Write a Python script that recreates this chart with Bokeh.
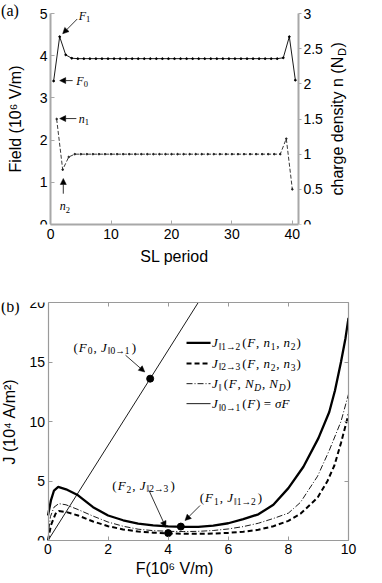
import math
from bokeh.plotting import figure
from bokeh.models import (Range1d, LinearAxis, FixedTicker, NumeralTickFormatter,
                          CustomJSTickFormatter, Label, Arrow, NormalHead)
from bokeh.layouts import column
from bokeh.embed import file_html
from bokeh.resources import INLINE

# ---------------- panel (a) data ----------------
period_F = [0.5, 1.5, 2.5, 3.5, 4.5, 5.5, 6.5, 7.5, 8.5, 9.5, 10.5, 11.5, 12.5, 13.5,
            14.5, 15.5, 16.5, 17.5, 18.5, 19.5, 20.5, 21.5, 22.5, 23.5, 24.5, 25.5,
            26.5, 27.5, 28.5, 29.5, 30.5, 31.5, 32.5, 33.5, 34.5, 35.5, 36.5, 37.5,
            38.5, 39.5, 40.5]
field_F = [3.40, 4.45, 4.02, 3.94, 3.93, 3.93, 3.93, 3.93, 3.93, 3.93, 3.93, 3.93,
           3.93, 3.93, 3.93, 3.93, 3.93, 3.93, 3.93, 3.93, 3.93, 3.93, 3.93, 3.93,
           3.93, 3.93, 3.93, 3.93, 3.93, 3.93, 3.93, 3.93, 3.93, 3.93, 3.93, 3.93,
           3.93, 3.93, 3.95, 4.45, 3.42]
period_n = [1, 2, 3, 4, 5, 6, 7, 8, 9, 10, 11, 12, 13, 14, 15, 16, 17, 18, 19, 20,
            21, 22, 23, 24, 25, 26, 27, 28, 29, 30, 31, 32, 33, 34, 35, 36, 37, 38,
            39, 40]
density_n = [1.50, 0.78, 0.96, 1.00, 1.00, 1.00, 1.00, 1.00, 1.00, 1.00, 1.00, 1.00,
             1.00, 1.00, 1.00, 1.00, 1.00, 1.00, 1.00, 1.00, 1.00, 1.00, 1.00, 1.00,
             1.00, 1.00, 1.00, 1.00, 1.00, 1.00, 1.00, 1.00, 1.00, 1.00, 1.00, 1.00,
             1.00, 1.00, 1.22, 0.50]
ticks_a_x = [0, 10, 20, 30, 40]
ticks_a_left = [0, 1, 2, 3, 4, 5]
ticks_a_right = [0, 0.5, 1, 1.5, 2, 2.5, 3]

# ---------------- panel (b) data ----------------
F_j12 = [0, 0.1, 0.2, 0.34, 0.6, 1.0, 1.5, 2.0, 2.5, 3.0, 3.5, 4.0, 4.5, 5.0, 5.5,
         6.0, 6.5, 7.0, 7.5, 8.0, 8.5, 9.0, 9.36, 9.55, 9.75, 9.9, 10.0]
J_j12 = [2.1, 3.4, 4.2, 4.5, 4.3, 3.8, 2.8, 2.1, 1.7, 1.42, 1.27, 1.18, 1.14, 1.15, 1.25,
         1.45, 1.8, 2.2, 3.0, 4.4, 6.2, 8.6, 10.8, 12.6, 15.0, 17.0, 18.7]
F_j23 = [0, 0.1, 0.25, 0.36, 0.6, 1.0, 1.5, 2.0, 2.5, 3.0, 3.5, 4.0, 4.5, 5.0, 5.5,
         6.0, 6.5, 7.0, 7.5, 8.0, 8.4, 8.97, 9.3, 9.53, 9.75, 10.0]
J_j23 = [0, 1.3, 2.24, 2.47, 2.4, 2.1, 1.6, 1.2, 0.93, 0.76, 0.66, 0.6, 0.57, 0.56, 0.58,
         0.64, 0.74, 0.9, 1.2, 1.65, 2.24, 3.6, 5.0, 6.3, 8.2, 10.6]
F_jpar = [0, 0.04, 0.08, 0.2, 0.36, 0.6, 1.0, 1.5, 2.0, 2.5, 3.0, 3.5, 4.0, 4.5, 5.0,
          5.5, 6.0, 6.5, 7.0, 7.5, 8.0, 8.4, 8.97, 9.36, 9.75, 10.0]
J_jpar = [0, 1.1, 2.0, 2.8, 3.1, 3.0, 2.6, 2.05, 1.55, 1.2, 0.95, 0.83, 0.77, 0.75, 0.77,
          0.84, 0.97, 1.17, 1.45, 1.85, 2.3, 3.2, 5.4, 7.57, 10.0, 12.3]
F_sigma = [0, 5.2]
J_sigma = [0, 20.8]
mark_F = [3.4, 4.0, 4.42]
mark_J = [13.6, 0.62, 1.17]
ticks_b_x = [0, 2, 4, 6, 8, 10]
ticks_b_y = [0, 5, 10, 15, 20]

SANS = "Liberation Sans"
SERIF = "Liberation Serif"
AXC = "#a8a8a8"
BXC = "#9a9a9a"

# approximate glyph widths (em) for the serif math text
WID = {"F": 0.611, "J": 0.444, "n": 0.5, "N": 0.667, "D": 0.722, "(": 0.333, ")": 0.333,
       ",": 0.25, " ": 0.25, "=": 0.564, "\u2016": 0.45, "\u2192": 0.95, "\u03c3": 0.55}


def tw(s, fs):
    return sum(WID.get(c, 0.5) for c in s) * fs


def mtext(fig, x, y, parts, size=12.0, sub=8.5, gap=0.0):
    off = 0.0
    for s, kind, style in parts:
        fs = sub if kind == "s" else size
        yo = -0.3 * size if kind == "s" else 0.0
        fig.add_layout(Label(x=x, y=y, x_offset=off, y_offset=yo, text=s,
                             text_font=SERIF, text_font_style=style,
                             text_font_size=f"{fs}px", text_baseline="middle",
                             text_align="left", text_color="black"))
        off += tw(s, fs) + gap


def arrow(fig, x0, y0, x1, y1, size=6):
    fig.add_layout(Arrow(end=NormalHead(size=size, fill_color="black", line_color="black",
                                        line_width=0.5),
                         x_start=x0, y_start=y0, x_end=x1, y_end=y1,
                         line_color="black", line_width=0.8))


def style_axis(ax, color=AXC, lw=2.0, tin=4, tout=0, tcolor=None):
    ax.axis_line_color = color
    ax.axis_line_width = lw
    ax.major_tick_line_color = tcolor if tcolor else color
    ax.major_tick_line_width = 1
    ax.major_tick_in = tin
    ax.major_tick_out = tout
    ax.minor_tick_line_color = None
    ax.major_label_text_font = SANS
    ax.major_label_text_font_size = "14px"
    ax.major_label_text_color = "black"
    ax.axis_label_text_font = SANS
    ax.axis_label_text_font_size = "16px"
    ax.axis_label_text_font_style = "normal"
    ax.axis_label_text_color = "black"


# ======================= panel (a) =======================
# plot frame spans the whole figure width; data axes are placed at fixed locations
A_X0, A_XS = 55.0, 6.634      # px of period 0, px per period
A_YS = 42.2                   # px per field unit (frame bottom = field 0)
A_FH = 224
a_xr = Range1d(-A_X0 / A_XS, (382 - A_X0) / A_XS)
a_yr = Range1d(0, A_FH / A_YS)
pA = figure(width=382, height=274, x_range=a_xr, y_range=a_yr,
            output_backend="svg", toolbar_location=None, y_axis_location=None,
            min_border_left=0, min_border_right=0, min_border_top=0, min_border_bottom=50)
pA.outline_line_color = None
pA.grid.visible = False
pA.extra_y_ranges = {"n": Range1d(0, 3 * A_FH / A_YS / 5)}

xa = pA.xaxis[0]
xa.ticker = FixedTicker(ticks=ticks_a_x)
xa.bounds = (0, 41)
xa.axis_label = "SL period"
style_axis(xa)
xa.major_label_standoff = 4
xa.axis_label_standoff = 6

axL = LinearAxis(fixed_location=0, bounds=(0, 5), ticker=FixedTicker(ticks=ticks_a_left),
                 axis_label="Field (10\u2076 V/m)")
style_axis(axL)
axL.major_label_standoff = 3
axL.axis_label_standoff = 13
pA.add_layout(axL, "left")

axR = LinearAxis(y_range_name="n", fixed_location=41, bounds=(0, 3),
                 ticker=FixedTicker(ticks=ticks_a_right),
                 formatter=NumeralTickFormatter(format="0.[0]"))
style_axis(axR, tin=0, tout=3)
axR.major_label_standoff = 2
pA.add_layout(axR, "right")

pA.line(period_F, field_F, line_color="black", line_width=0.9)
pA.scatter(period_F, field_F, size=1.8, color="black")
pA.line(period_n, density_n, y_range_name="n", line_color="#222222", line_width=0.9,
        line_dash="4 2")
pA.scatter(period_n, density_n, y_range_name="n", size=1.6, color="#222222")

# annotations panel (a)
arrow(pA, 4.41, 4.87, 2.0, 4.52)
mtext(pA, 4.66, 4.95, [("F", "m", "italic"), ("1", "s", "normal")])
arrow(pA, 3.65, 3.41, 1.5, 3.41)
mtext(pA, 4.26, 3.41, [("F", "m", "italic"), ("0", "s", "normal")])
arrow(pA, 4.26, 2.51, 1.5, 2.51)
mtext(pA, 4.66, 2.51, [("n", "m", "italic"), ("1", "s", "normal")])
arrow(pA, 2.1, 0.73, 2.1, 1.09)
mtext(pA, 1.5, 0.43, [("n", "m", "italic"), ("2", "s", "normal")])

pA.add_layout(Label(x=-8.2, y=5.08, text="(a)", text_font=SERIF, text_font_size="16px",
                    text_baseline="middle", text_align="left", text_color="black"))

# right axis label, rotated, with subscript D
yl = 0.687
xl = (370 - A_X0) / A_XS
main_txt = "charge density n (N"
main_len = 139.5
pA.add_layout(Label(x=xl, y=yl, text=main_txt, angle=math.pi / 2, text_font=SANS,
                    text_font_size="16px", text_baseline="middle", text_align="left",
                    text_color="black"))
pA.add_layout(Label(x=xl, y=yl, x_offset=4, y_offset=main_len, text="D", angle=math.pi / 2,
                    text_font=SANS, text_font_size="11px", text_baseline="middle",
                    text_align="left", text_color="black"))
pA.add_layout(Label(x=xl, y=yl, y_offset=main_len + 8.5, text=")", angle=math.pi / 2,
                    text_font=SANS, text_font_size="16px", text_baseline="middle",
                    text_align="left", text_color="black"))

# ======================= panel (b) =======================
B_X0, B_XS = 47.5, 30.05
b_xr = Range1d(-B_X0 / B_XS, 10)
pB = figure(width=382, height=308, x_range=b_xr, y_range=Range1d(0, 20),
            output_backend="svg", toolbar_location=None, y_axis_location=None,
            min_border_left=0, min_border_right=34, min_border_top=28, min_border_bottom=42)
pB.grid.visible = False
pB.outline_line_color = None

xb = pB.xaxis[0]
xb.ticker = FixedTicker(ticks=ticks_b_x)
xb.bounds = (0, 10)
xb.axis_label = "F(10\u2076 V/m)"
style_axis(xb, color=BXC, lw=1.2)
xb.major_label_standoff = 3
xb.axis_label_standoff = 3

axLb = LinearAxis(fixed_location=0, bounds=(0, 20), ticker=FixedTicker(ticks=ticks_b_y),
                  axis_label="J (10\u2074 A/m\u00b2)")
style_axis(axLb, color=BXC, lw=1.2)
axLb.major_label_standoff = 3
axLb.axis_label_standoff = 9
pB.add_layout(axLb, "left")

blank = CustomJSTickFormatter(code="return ''")
axT = LinearAxis(ticker=FixedTicker(ticks=ticks_b_x), formatter=blank, bounds=(0, 10))
style_axis(axT, color=BXC, lw=1.2)
axT.major_label_standoff = 0
pB.add_layout(axT, "above")
axRb = LinearAxis(ticker=FixedTicker(ticks=ticks_b_y), formatter=blank, bounds=(0, 20))
style_axis(axRb, color=BXC, lw=1.2)
axRb.major_label_standoff = 0
pB.add_layout(axRb, "right")

pB.line(F_sigma, J_sigma, line_color="black", line_width=0.9)
pB.line(F_jpar, J_jpar, line_color="black", line_width=0.9, line_dash="6 2 1 2")
pB.line(F_j23, J_j23, line_color="black", line_width=2.0, line_dash="5 3")
pB.line(F_j12, J_j12, line_color="black", line_width=2.3)
pB.scatter(mark_F, mark_J, size=7, color="black")

# legend (drawn by hand)
leg_y = [16.6, 14.87, 13.18, 11.5]
leg_styles = [dict(line_width=2.3), dict(line_width=2.0, line_dash="5 3"),
              dict(line_width=0.9, line_dash="6 2 1 2"), dict(line_width=0.9)]
for yy, st in zip(leg_y, leg_styles):
    pB.line([4.61, 5.41], [yy, yy], line_color="black", **st)
sub_par = "\u2016"
arr = "\u2192"
leg_parts = [
    [("J", "m", "italic"), (sub_par + "1" + arr + "2", "s", "normal"), ("(", "m", "normal"),
     ("F", "m", "italic"), (", ", "m", "normal"), ("n", "m", "italic"), ("1", "s", "normal"),
     (", ", "m", "normal"), ("n", "m", "italic"), ("2", "s", "normal"), (")", "m", "normal")],
    [("J", "m", "italic"), (sub_par + "2" + arr + "3", "s", "normal"), ("(", "m", "normal"),
     ("F", "m", "italic"), (", ", "m", "normal"), ("n", "m", "italic"), ("2", "s", "normal"),
     (", ", "m", "normal"), ("n", "m", "italic"), ("3", "s", "normal"), (")", "m", "normal")],
    [("J", "m", "italic"), (sub_par, "s", "normal"), ("(", "m", "normal"),
     ("F", "m", "italic"), (", ", "m", "normal"), ("N", "m", "italic"), ("D", "s", "italic"),
     (", ", "m", "normal"), ("N", "m", "italic"), ("D", "s", "italic"), (")", "m", "normal")],
    [("J", "m", "italic"), (sub_par + "0" + arr + "1", "s", "normal"), ("(", "m", "normal"),
     ("F", "m", "italic"), (") = ", "m", "normal"), ("\u03c3F", "m", "italic")],
]
for yy, parts in zip(leg_y, leg_parts):
    mtext(pB, 5.46, yy, parts, size=13, sub=9.5, gap=0.8)

# point annotations
mtext(pB, 0.85, 16.26, [("(", "m", "normal"), ("F", "m", "italic"), ("0", "s", "normal"),
                        (", ", "m", "normal"), ("J", "m", "italic"),
                        (sub_par + "0" + arr + "1", "s", "normal"), (")", "m", "normal")],
      size=13, sub=9.5, gap=1.0)
arrow(pB, 2.58, 15.57, 3.22, 14.16)
mtext(pB, 2.14, 4.63, [("(", "m", "normal"), ("F", "m", "italic"), ("2", "s", "normal"),
                       (", ", "m", "normal"), ("J", "m", "italic"),
                       (sub_par + "2" + arr + "3", "s", "normal"), (")", "m", "normal")],
      size=13, sub=9.5, gap=1.0)
arrow(pB, 3.36, 4.21, 3.92, 1.12)
mtext(pB, 5.05, 3.59, [("(", "m", "normal"), ("F", "m", "italic"), ("1", "s", "normal"),
                       (", ", "m", "normal"), ("J", "m", "italic"),
                       (sub_par + "1" + arr + "2", "s", "normal"), (")", "m", "normal")],
      size=13, sub=9.5, gap=1.0)
arrow(pB, 5.06, 2.94, 4.56, 1.68)

pB.add_layout(Label(x=-1.564, y=19.66, text="(b)", text_font=SERIF, text_font_size="16px",
                    text_baseline="middle", text_align="left", text_color="black"))

layout = column(pA, pB, spacing=0)
open("out.html", "w").write(file_html(layout, INLINE))
